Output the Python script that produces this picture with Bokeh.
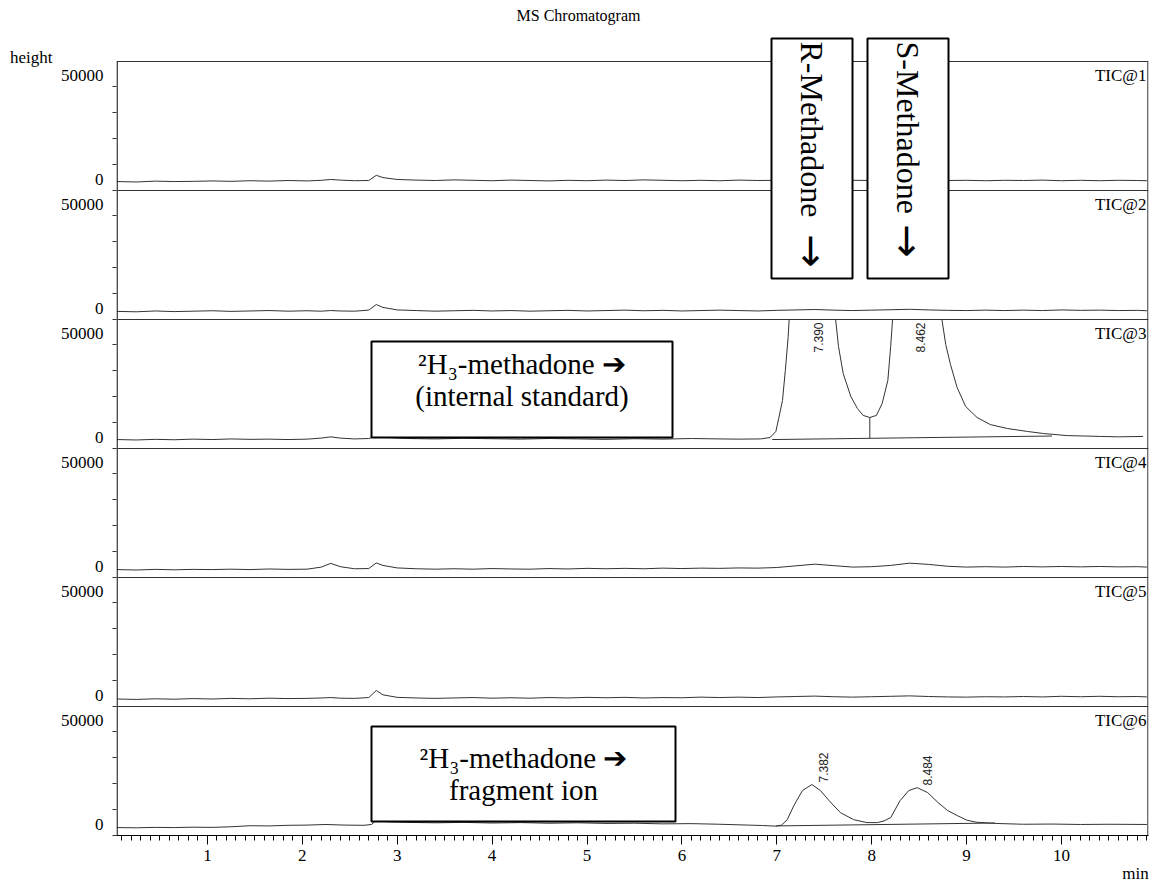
import numpy as np
from bokeh.plotting import figure
from bokeh.models import Range1d, FixedTicker, Span, BoxAnnotation, Label, LinearAxis
from bokeh.embed import file_html
from bokeh.resources import INLINE

nan = np.nan

# ---------------- data ----------------
T_BASE = [0.05, 0.25, 0.45, 0.65, 0.85, 1.05, 1.25, 1.45, 1.65, 1.85,
          2.05, 2.2, 2.3, 2.4, 2.55, 2.7, 2.78, 2.85, 3.0, 3.2,
          3.4, 3.6, 3.8, 4.0, 4.2, 4.4, 4.6, 4.8, 5.0, 5.2,
          5.4, 5.6, 5.8, 6.0, 6.2, 6.4, 6.6, 6.8, 7.0, 7.2,
          7.4, 7.6, 7.8, 8.0, 8.2, 8.4, 8.6, 8.8, 9.0, 9.2,
          9.4, 9.6, 9.8, 10.0, 10.2, 10.4, 10.6, 10.8, 10.9]

TIC1 = [4300, 4100, 4500, 4300, 4400, 4600, 4400, 4700, 4500, 4800,
        4600, 4900, 5300, 5000, 4700, 4800, 7300, 6200, 5300, 5000,
        4800, 5100, 4900, 4700, 5000, 4800, 4600, 4900, 4700, 5000,
        4800, 5100, 4900, 4700, 4900, 4700, 5000, 4800, 4900, 5200,
        5400, 5100, 4900, 4800, 5000, 5300, 5100, 4800, 4900, 4700,
        4900, 4800, 5000, 4700, 4900, 4700, 4900, 4800, 4700]

TIC2 = [3900, 3700, 4100, 3800, 4000, 4200, 3900, 4100, 4300, 4000,
        4200, 4000, 4300, 4100, 4000, 4500, 7200, 5800, 4600, 4300,
        4000, 4200, 4400, 4100, 4300, 4000, 4200, 4400, 4100, 4300,
        4500, 4200, 4400, 4100, 4300, 4500, 4300, 4100, 4400, 4600,
        4800, 4500, 4300, 4500, 4700, 4900, 4600, 4400, 4300, 4500,
        4300, 4500, 4300, 4600, 4400, 4500, 4300, 4400, 4200]

TIC4 = [3800, 3600, 3900, 3700, 3900, 3800, 4000, 3800, 4100, 3900,
        4000, 5000, 6800, 5200, 4200, 4300, 7000, 5800, 4600, 4200,
        4000, 4200, 4000, 4300, 4100, 4000, 4300, 4100, 4400, 4200,
        4400, 4200, 4500, 4300, 4500, 4400, 4600, 4500, 4800, 5600,
        6400, 5700, 5000, 5200, 5800, 6900, 6300, 5400, 5000, 5200,
        5000, 5300, 5100, 5300, 5100, 5300, 5100, 5200, 5000]

TIC5 = [3600, 3400, 3700, 3500, 3800, 3600, 3900, 3700, 4000, 3800,
        3900, 4100, 4300, 4000, 3900, 4300, 7700, 5600, 4400, 4100,
        3900, 4100, 4300, 4000, 4200, 4000, 4300, 4100, 4400, 4200,
        4400, 4100, 4300, 4200, 4500, 4300, 4500, 4300, 4600, 4800,
        5000, 4700, 4500, 4700, 4900, 5100, 4800, 4600, 4500, 4700,
        4600, 4800, 4600, 4900, 4700, 4900, 4700, 4800, 4600]

# TIC@3: the two methadone peaks run off scale (NaN = above the top of the panel)
T3 = [0.05, 0.25, 0.45, 0.65, 0.85, 1.05, 1.25, 1.45, 1.65, 1.85,
      2.05, 2.2, 2.3, 2.4, 2.55, 2.7, 2.8, 2.9, 3.1, 3.4,
      3.7, 4.0, 4.3, 4.6, 4.9, 5.2, 5.5, 5.8, 6.1, 6.4,
      6.6, 6.83, 6.93, 6.99, 7.02, 7.06, 7.09, 7.12, 7.13, 7.39,
      7.62, 7.65, 7.70, 7.78, 7.85, 7.91, 7.98, 8.05, 8.11, 8.17,
      8.20, 8.22, 8.46, 8.74, 8.78, 8.83, 8.90, 8.99, 9.11, 9.25,
      9.43, 9.64, 9.81, 10.06, 10.25, 10.41, 10.6, 10.86]
TIC3 = [4300, 4100, 4400, 4200, 4500, 4300, 4600, 4400, 4500, 4300,
        4500, 5000, 5600, 5000, 4600, 4800, 6200, 5300, 4800, 4600,
        4900, 4700, 4500, 4800, 4600, 4400, 4700, 4500, 4800, 4600,
        4500, 4600, 5300, 8200, 14400, 23100, 37500, 53800, 62000, nan,
        62000, 49000, 36000, 25000, 19200, 15900, 14900, 15900, 21600, 32700,
        49000, 62000, nan, 62000, 50000, 40400, 29300, 20200, 14900, 11500,
        9600, 8200, 7200, 6200, 6000, 5800, 5600, 5800]

T6 = [0.05, 0.25, 0.45, 0.65, 0.85, 1.05, 1.25, 1.45, 1.65, 1.85,
      2.05, 2.25, 2.45, 2.65, 2.73, 2.78, 2.9, 3.1, 3.4, 3.7,
      4.0, 4.3, 4.6, 4.9, 5.2, 5.5, 5.8, 6.1, 6.4, 6.7,
      6.85, 6.99, 7.05, 7.11, 7.18, 7.27, 7.37, 7.46, 7.55, 7.67,
      7.81, 7.95, 8.06, 8.13, 8.20, 8.30, 8.39, 8.48, 8.59, 8.70,
      8.80, 8.90, 9.0, 9.1, 9.3, 9.6, 9.9, 10.2, 10.5, 10.9]
TIC6 = [3800, 3700, 3900, 3800, 4000, 3900, 4200, 4700, 4600, 4900,
        5000, 5300, 5000, 4900, 5300, 7400, 6600, 6300, 6100, 6300,
        6000, 6200, 5900, 6100, 5800, 5900, 5600, 5700, 5400, 5000,
        4800, 4500, 5000, 7600, 14400, 21600, 24500, 21600, 16800, 11000,
        7600, 6200, 6200, 7000, 8600, 16800, 21600, 23000, 20600, 15800,
        12000, 9600, 7400, 6400, 5800, 5400, 5500, 5300, 5400, 5300]

SERIES = [("TIC@1", T_BASE, TIC1), ("TIC@2", T_BASE, TIC2), ("TIC@3", T3, TIC3),
          ("TIC@4", T_BASE, TIC4), ("TIC@5", T_BASE, TIC5), ("TIC@6", T6, TIC6)]

# integration baselines and drop line
BASELINE3_T = [6.95, 9.9]
BASELINE3_V = [4300, 6000]
DROP3_T = [7.98]
DROP3_LO = [4900]
DROP3_HI = [14900]
BASELINE6_T = [6.99, 9.3]
BASELINE6_V = [4600, 6000]

PEAKS3 = [7.390, 8.462]
PEAKS6 = [7.382, 8.484]

X_TICKS = [1, 2, 3, 4, 5, 6, 7, 8, 9, 10]
Y_LABELS = ["0", "50000"]

# ---------------- layout ----------------
W, H = 1155, 889
PX_PER_MIN = 94.9
PX_ORIGIN = 112.0          # page x of t = 0
FRAME_L, FRAME_R = 116, 1148
FB = 835                   # page y of frame bottom (x axis)
PH = 129                   # panel height in px
SPAN = 62000               # value span of one panel
TOP = FB * SPAN / PH

X0 = (FRAME_L - PX_ORIGIN) / PX_PER_MIN
X1 = (FRAME_R - PX_ORIGIN) / PX_PER_MIN


def sx(px):
    return (px - PX_ORIGIN) / PX_PER_MIN


def sy(py):
    return (FB - py) * SPAN / PH


SERIF = "Liberation Serif"
SANS = "Liberation Sans"
ARROW_FONT = "DejaVu Sans"
INK = "#333333"

p = figure(width=W, height=H, x_range=Range1d(X0, X1), y_range=Range1d(0, TOP),
           output_backend="svg", toolbar_location=None,
           min_border_left=FRAME_L, min_border_right=W - FRAME_R,
           min_border_top=0, min_border_bottom=H - FB)
p.title.visible = False
p.outline_line_color = None
p.grid.visible = False
p.background_fill_color = "white"
p.border_fill_color = "white"

# one value range per panel, stacked inside the frame
n = len(SERIES)
for i, (name, t, v) in enumerate(SERIES):
    below = n - 1 - i
    rn = "p%d" % (i + 1)
    p.extra_y_ranges[rn] = Range1d(-below * SPAN, -below * SPAN + TOP)
    p.line(t, np.array(v, dtype=float), y_range_name=rn, line_color=INK, line_width=1)

p.line(BASELINE3_T, BASELINE3_V, y_range_name="p3", line_color=INK, line_width=1)
p.segment(x0=DROP3_T, y0=DROP3_LO, x1=DROP3_T, y1=DROP3_HI, y_range_name="p3",
          line_color=INK, line_width=1)
p.line(BASELINE6_T, BASELINE6_V, y_range_name="p6", line_color=INK, line_width=1)

# x axis
xa = p.xaxis[0]
xa.ticker = FixedTicker(ticks=X_TICKS, minor_ticks=[k / 10 for k in range(1, 110)])
xa.major_tick_out = 9
xa.major_tick_in = 0
xa.minor_tick_out = 5
xa.minor_tick_in = 0
xa.major_label_standoff = 5
xa.major_label_text_font = SERIF
xa.major_label_text_font_size = "17px"
xa.major_label_text_color = "black"
xa.axis_line_color = "black"
xa.major_tick_line_color = "black"
xa.minor_tick_line_color = "black"

# unit label "min" at the right end, under the x axis
MIN_POS = 10.78
ax_min = LinearAxis(ticker=FixedTicker(ticks=[MIN_POS]), major_label_overrides={MIN_POS: "min"},
                    axis_line_color=None, major_tick_line_color=None, minor_tick_line_color=None,
                    major_tick_out=0, major_tick_in=0, minor_tick_out=0, minor_tick_in=0,
                    major_label_standoff=0, major_label_text_font=SERIF,
                    major_label_text_font_size="17px", major_label_text_color="black")
p.add_layout(ax_min, "below")

# y axis: labels sit just above their ticks, as in the print-out
ya = p.yaxis[0]
label_pos, minor_pos, overrides = [], [], {}
for i in range(n):
    base = (n - 1 - i) * SPAN
    for val, txt in zip([0, 50000], Y_LABELS):
        pos = base + val + 5500
        label_pos.append(pos)
        overrides[pos] = txt
    minor_pos += [base + 12500 * j for j in range(5)]
ya.ticker = FixedTicker(ticks=label_pos, minor_ticks=minor_pos)
ya.major_label_overrides = overrides
ya.major_tick_out = 0
ya.major_tick_in = 0
ya.minor_tick_out = 4
ya.minor_tick_in = 0
ya.minor_tick_line_color = INK
ya.axis_line_color = None
ya.major_label_standoff = 9
ya.major_label_text_font = SERIF
ya.major_label_text_font_size = "17px"
ya.major_label_text_color = "black"

# unit label "height" at the top of the y axis
HEIGHT_POS = int(round(sy(57)))
ax_h = LinearAxis(ticker=FixedTicker(ticks=[HEIGHT_POS]),
                  major_label_overrides={HEIGHT_POS: "height"},
                  axis_line_color=None, major_tick_line_color=None, minor_tick_line_color=None,
                  major_tick_out=0, major_tick_in=0, minor_tick_out=0, minor_tick_in=0,
                  major_label_standoff=5, major_label_text_font=SERIF,
                  major_label_text_font_size="17px", major_label_text_color="black")
p.add_layout(ax_h, "left")

# frame lines
p.segment(x0=[X0 + 0.6 / PX_PER_MIN], y0=[0], x1=[X0 + 0.6 / PX_PER_MIN], y1=[n * SPAN],
          line_color="black", line_width=1.2)
p.segment(x0=[X1 - 0.6 / PX_PER_MIN], y0=[0], x1=[X1 - 0.6 / PX_PER_MIN], y1=[n * SPAN],
          line_color=INK, line_width=1.2)
for j in range(1, n + 1):
    p.add_layout(Span(location=j * SPAN, dimension="width", line_color=INK, line_width=1))

# panel names
for i, (name, _, _) in enumerate(SERIES):
    top_py = FB - (n - i) * PH
    p.add_layout(Label(x=sx(1146), y=sy(top_py + 14), text=name, text_align="right",
                       text_baseline="middle", text_font=SERIF, text_font_size="17px",
                       text_color="black"))

# peak retention-time labels
for t in PEAKS3:
    p.add_layout(Label(x=t + 0.05, y=sy(FB - 4 * PH + 3), text="%.3f" % t, angle=np.pi / 2,
                       text_align="right", text_baseline="middle", text_font=SANS,
                       text_font_size="12px", text_color="#222222"))
for t, top in zip(PEAKS6, [752, 755]):
    p.add_layout(Label(x=t + 0.105, y=sy(top), text="%.3f" % t, angle=np.pi / 2,
                       text_align="right", text_baseline="middle", text_font=SANS,
                       text_font_size="12px", text_color="#222222"))

# annotation boxes
BOX = dict(fill_color="white", fill_alpha=1.0, line_color="black", line_alpha=1.0,
           line_width=2)
p.add_layout(BoxAnnotation(left=sx(771), right=sx(852), top=sy(38), bottom=sy(278), **BOX))
p.add_layout(BoxAnnotation(left=sx(867), right=sx(948), top=sy(38), bottom=sy(278), **BOX))
p.add_layout(BoxAnnotation(left=sx(371), right=sx(672), top=sy(341), bottom=sy(437), **BOX))
p.add_layout(BoxAnnotation(left=sx(371), right=sx(675), top=sy(726), bottom=sy(821), **BOX))

# vertical enantiomer labels (read top to bottom), arrows in a separate font
for txt, cx, top_py, arrow_py in [("R-Methadone", 811.5, 41, 234),
                                  ("S-Methadone", 907.5, 41, 224)]:
    p.add_layout(Label(x=sx(cx), y=sy(top_py), text=txt, angle=-np.pi / 2,
                       text_align="left", text_baseline="middle", text_font=SERIF,
                       text_font_size="32px", text_color="black"))
    p.add_layout(Label(x=sx(cx), y=sy(arrow_py), text="\u2192", angle=-np.pi / 2,
                       text_align="left", text_baseline="middle", text_font=ARROW_FONT,
                       text_font_size="40px", text_color="black"))

for txt, cx, cy in [("\u00b2H\u2083-methadone \u2794", 521.5, 363),
                    ("(internal standard)", 521.5, 395),
                    ("\u00b2H\u2083-methadone \u2794", 523, 757),
                    ("fragment ion", 523, 789)]:
    p.add_layout(Label(x=sx(cx), y=sy(cy), text=txt, text_align="center",
                       text_baseline="middle", text_font=SERIF, text_font_size="29px",
                       text_color="black"))

# chart title
p.add_layout(Label(x=sx(578), y=sy(15), text="MS Chromatogram", text_align="center",
                   text_baseline="middle", text_font=SERIF, text_font_size="16px",
                   text_color="black"))

open("out.html", "w").write(file_html(p, INLINE))
